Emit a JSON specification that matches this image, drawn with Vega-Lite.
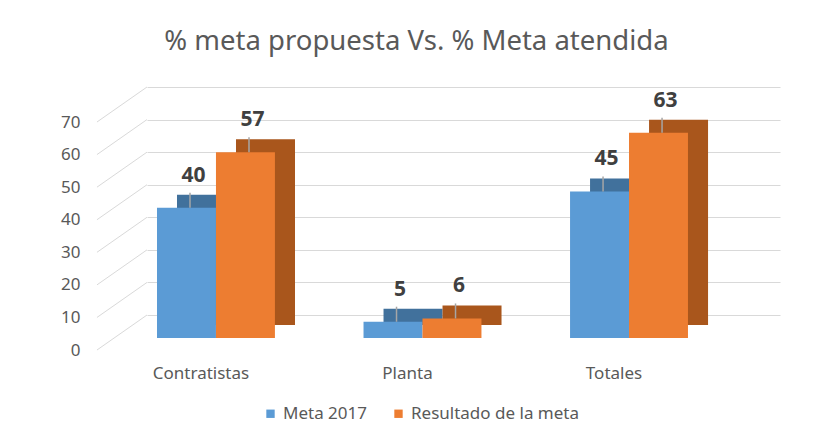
{
  "$schema": "https://vega.github.io/schema/vega-lite/v6.json",
  "width": 633,
  "height": 228,
  "autosize": {"type": "none"},
  "padding": {"left": 147, "top": 87, "right": 35, "bottom": 129},
  "background": "white",
  "config": {"font": "Noto Sans", "view": {"stroke": null}},
  "title": {
    "text": "% meta propuesta Vs. % Meta atendida",
    "fontSize": 27.5,
    "fontWeight": "normal",
    "color": "#595959",
    "anchor": "middle",
    "offset": 31,
    "dx": -47
  },
  "data": {
    "values": [
      {"categoria": "Contratistas", "serie": "Meta 2017", "valor": 40},
      {"categoria": "Contratistas", "serie": "Resultado de la meta", "valor": 57},
      {"categoria": "Planta", "serie": "Meta 2017", "valor": 5},
      {"categoria": "Planta", "serie": "Resultado de la meta", "valor": 6},
      {"categoria": "Totales", "serie": "Meta 2017", "valor": 45},
      {"categoria": "Totales", "serie": "Resultado de la meta", "valor": 63}
    ]
  },
  "encoding": {
    "x": {
      "field": "categoria",
      "type": "nominal",
      "sort": ["Contratistas", "Planta", "Totales"],
      "scale": {"paddingInner": 0.429, "paddingOuter": 0.247, "align": 0.098},
      "axis": {
        "title": null,
        "domain": false,
        "ticks": false,
        "grid": false,
        "labelAngle": 0,
        "labelFontSize": 17,
        "labelColor": "#595959",
        "labelPadding": 50,
        "labelOffset": -15
      }
    },
    "y": {
      "field": "valor",
      "type": "quantitative",
      "scale": {"domain": [0, 70]},
      "axis": {
        "values": [0, 10, 20, 30, 40, 50, 60, 70],
        "title": null,
        "domain": false,
        "ticks": false,
        "labelColor": "#595959",
        "labelFontSize": 17,
        "labelPadding": 67,
        "labelOffset": 35,
        "gridColor": "#D9D9D9",
        "gridWidth": 1
      }
    }
  },
  "layer": [
    {
      "data": {
        "values": [
          {"nivel": 0}, {"nivel": 10}, {"nivel": 20}, {"nivel": 30},
          {"nivel": 40}, {"nivel": 50}, {"nivel": 60}, {"nivel": 70}
        ]
      },
      "mark": {"type": "rule", "color": "#D9D9D9", "strokeWidth": 1, "xOffset": -60, "x2Offset": -10, "yOffset": 35, "y2Offset": 0},
      "encoding": {
        "x": {"datum": "Contratistas", "bandPosition": 0},
        "x2": {"datum": "Contratistas", "bandPosition": 0},
        "y": {"field": "nivel", "type": "quantitative"},
        "y2": {"field": "nivel"}
      }
    },
    {
      "mark": {"type": "bar", "yOffset": 10, "y2Offset": 10},
      "encoding": {
        "xOffset": {
          "field": "serie",
          "type": "nominal",
          "sort": ["Meta 2017", "Resultado de la meta"],
          "scale": {"type": "band", "paddingInner": 0, "paddingOuter": 0, "range": [20, 138]}
        },
        "color": {
          "condition": {"test": "datum.serie === 'Meta 2017'", "value": "#41719C"},
          "value": "#A9561C"
        }
      }
    },
    {
      "mark": {"type": "bar", "yOffset": 23, "y2Offset": 23},
      "encoding": {
        "xOffset": {
          "field": "serie",
          "type": "nominal",
          "sort": ["Meta 2017", "Resultado de la meta"],
          "scale": {"type": "band", "paddingInner": 0, "paddingOuter": 0}
        },
        "color": {
          "field": "serie",
          "type": "nominal",
          "sort": ["Meta 2017", "Resultado de la meta"],
          "scale": {"domain": ["Meta 2017", "Resultado de la meta"], "range": ["#5B9BD5", "#ED7D31"]},
          "legend": {
            "orient": "none",
            "legendX": 115,
            "legendY": 318,
            "direction": "horizontal",
            "title": null,
            "symbolType": "square",
            "symbolSize": 70,
            "symbolStrokeWidth": 0,
            "labelFontSize": 17,
            "labelLimit": 400,
            "labelColor": "#595959",
            "columnPadding": 23
          }
        }
      }
    },
    {
      "mark": {"type": "rule", "color": "#A6A6A6", "strokeWidth": 1.5, "yOffset": 23, "y2Offset": 8},
      "encoding": {
        "xOffset": {
          "field": "serie",
          "type": "nominal",
          "sort": ["Meta 2017", "Resultado de la meta"],
          "scale": {"type": "band", "paddingInner": 0, "paddingOuter": 0, "range": [3.5, 121.5]}
        },
        "y2": {"field": "valor"}
      }
    },
    {
      "mark": {"type": "text", "fontSize": 21, "fontWeight": "bold", "color": "#404040", "dy": -9, "dx": 7, "baseline": "middle"},
      "encoding": {
        "xOffset": {
          "field": "serie",
          "type": "nominal",
          "sort": ["Meta 2017", "Resultado de la meta"],
          "scale": {"type": "band", "paddingInner": 0, "paddingOuter": 0}
        },
        "text": {"field": "valor", "type": "quantitative"}
      }
    }
  ],
  "resolve": {"scale": {"xOffset": "independent"}}
}
